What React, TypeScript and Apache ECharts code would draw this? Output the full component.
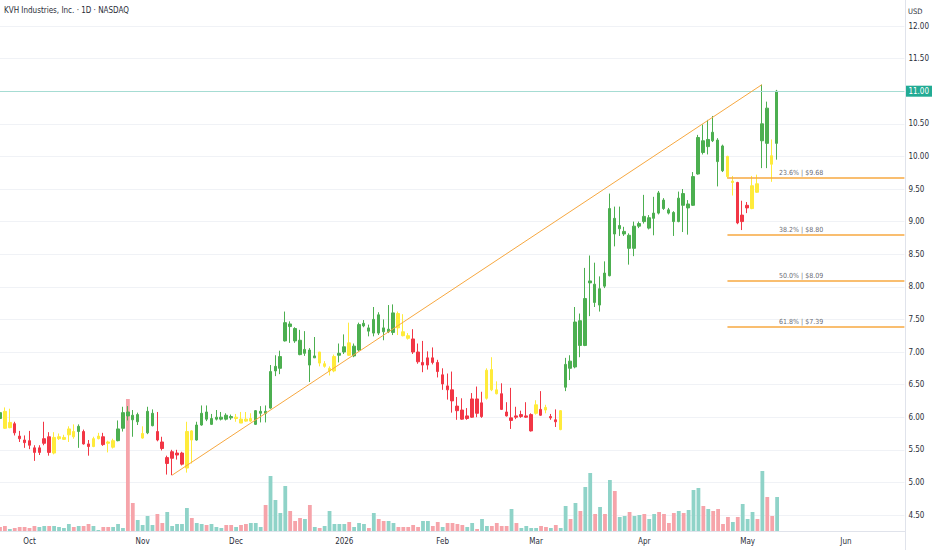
import React, { useEffect, useRef } from "react";
import * as echarts from "echarts";

const TITLE = "KVH Industries, Inc. · 1D · NASDAQ";
const CURRENCY = "USD";
const FONT = "'Liberation Sans Narrow', 'DejaVu Sans Condensed', 'Roboto Condensed', 'Liberation Sans', sans-serif";

// trading days (month -> day numbers), last part is future empty space
const tradingDays: [string, number[]][] = [
  ["2025-09", [23, 24, 25, 26, 29, 30]],
  ["2025-10", [1, 2, 3, 6, 7, 8, 9, 10, 13, 14, 15, 16, 17, 20, 21, 22, 23, 24, 27, 28, 29, 30, 31]],
  ["2025-11", [3, 4, 5, 6, 7, 10, 11, 12, 13, 14, 17, 18, 19, 20, 21, 24, 25, 26, 28]],
  ["2025-12", [1, 2, 3, 4, 5, 8, 9, 10, 11, 12, 15, 16, 17, 18, 19, 22, 23, 24, 26, 29, 30, 31]],
  ["2026-01", [2, 5, 6, 7, 8, 9, 12, 13, 14, 15, 16, 20, 21, 22, 23, 26, 27, 28, 29, 30]],
  ["2026-02", [2, 3, 4, 5, 6, 9, 10, 11, 12, 13, 17, 18, 19, 20, 23, 24, 25, 26, 27]],
  ["2026-03", [2, 3, 4, 5, 6, 9, 10, 11, 12, 13, 16, 17, 18, 19, 20, 23, 24, 25, 26, 27, 30, 31]],
  ["2026-04", [1, 2, 6, 7, 8, 9, 10, 13, 14, 15, 16, 17, 20, 21, 22, 23, 24, 27, 28, 29, 30]],
  ["2026-05", [1, 4, 5, 6, 7, 8, 11, 12, 13, 14, 15, 18, 19, 20, 21, 22, 26, 27, 28, 29]],
  ["2026-06", [1, 2, 3, 4, 5, 8, 9, 10, 11, 12, 15, 16, 17]],
];
const monthNames: Record<string, string> = {
  "2025-10": "Oct", "2025-11": "Nov", "2025-12": "Dec", "2026-01": "2026",
  "2026-02": "Feb", "2026-03": "Mar", "2026-04": "Apr", "2026-05": "May", "2026-06": "Jun",
};

const opens = [
  6.07, 6.09, 5.84, 5.90, 5.71, 5.65, 5.64, 5.53, 5.46, 5.60,
  5.70, 5.45, 5.67, 5.66, 5.73, 5.78, 5.78, 5.78, 5.59, 5.55,
  5.67, 5.70, 5.62, 5.54, 5.64, 5.83, 6.08, 6.03, 5.93, 5.68,
  5.76, 5.87, 5.78, 5.62, 5.29, 5.37, 5.42, 5.28, 5.22, 5.79,
  5.65, 5.88, 6.08, 5.89, 5.97, 5.97, 6.03, 6.01, 5.98, 5.97,
  5.97, 5.94, 5.89, 6.06, 6.09, 6.14, 6.71, 6.75, 7.17, 7.43,
  7.36, 7.18, 6.98, 7.03, 6.91, 7.00, 6.78, 6.71, 6.71, 6.95,
  7.00, 7.14, 6.94, 7.03, 7.40, 7.37, 7.29, 7.57, 7.37, 7.31,
  7.30, 7.59, 7.31, 7.25, 7.20, 7.00, 6.80, 6.80, 6.91, 6.84,
  6.51, 6.48, 6.42, 6.17, 6.11, 5.98, 6.00, 6.28, 6.01, 6.29,
  6.73, 6.42, 6.36, 6.08, 5.95, 6.02, 6.01, 6.00, 5.79, 6.06,
  6.12, 6.15, 5.99, 5.96, 5.81, 6.46, 6.86, 6.77, 7.48, 7.10,
  8.06, 8.04, 7.72, 8.21, 8.17, 9.05, 8.89, 8.81, 8.79, 8.59,
  8.93, 9.08, 8.90, 9.05, 9.44, 9.33, 9.18, 9.14, 9.00, 9.43,
  9.21, 9.25, 9.73, 10.24, 10.15, 10.37, 10.25, 10.16, 10.00, 9.60,
  9.60, 9.00, 9.21, 9.20, 9.58, 10.24, 10.74, 10.01, 10.20,
];
const closes = [
  5.98, 5.83, 5.92, 5.76, 5.67, 5.61, 5.57, 5.46, 5.53, 5.67,
  5.46, 5.69, 5.70, 5.69, 5.82, 5.70, 5.86, 5.59, 5.55, 5.67,
  5.71, 5.58, 5.60, 5.64, 5.82, 6.07, 6.02, 5.96, 6.04, 5.75,
  6.09, 6.06, 5.65, 5.52, 5.38, 5.47, 5.45, 5.45, 5.78, 5.65,
  5.88, 6.06, 5.97, 5.98, 6.00, 6.00, 5.97, 5.99, 6.00, 5.91,
  5.94, 5.98, 6.10, 6.09, 6.06, 6.70, 6.78, 6.93, 7.45, 7.39,
  7.17, 6.96, 7.04, 6.80, 6.94, 6.83, 6.82, 6.75, 6.93, 6.98,
  7.08, 6.95, 7.09, 7.42, 7.44, 7.32, 7.50, 7.29, 7.31, 7.35,
  7.60, 7.37, 7.25, 7.21, 7.00, 6.85, 6.84, 6.91, 6.84, 6.70,
  6.65, 6.42, 6.25, 6.10, 5.97, 6.02, 6.28, 6.06, 6.22, 6.72,
  6.42, 6.36, 6.12, 6.02, 5.99, 6.00, 6.04, 6.02, 6.04, 6.19,
  6.03, 6.11, 6.01, 5.93, 6.10, 6.81, 6.75, 7.46, 7.10, 7.82,
  8.09, 7.76, 7.97, 8.01, 9.20, 8.81, 8.94, 8.85, 8.59, 8.93,
  8.97, 9.00, 9.06, 9.13, 9.13, 9.20, 9.13, 9.00, 9.36, 9.25,
  9.27, 9.69, 10.29, 10.06, 10.26, 10.24, 9.92, 9.78, 9.69, 9.62,
  8.98, 9.10, 9.25, 9.55, 9.45, 10.50, 10.20, 9.88, 11.00,
];
const highs = [
  6.12, 6.15, 6.13, 5.93, 5.79, 5.72, 5.79, 5.57, 5.57, 5.93,
  5.77, 5.77, 5.75, 5.73, 5.86, 5.89, 5.89, 5.81, 5.65, 5.70,
  5.76, 5.76, 5.64, 5.67, 5.95, 6.16, 6.17, 6.11, 6.07, 5.86,
  6.16, 6.12, 6.08, 5.70, 5.41, 5.50, 5.50, 5.47, 5.93, 5.80,
  5.93, 6.18, 6.18, 6.05, 6.11, 6.08, 6.06, 6.04, 6.05, 6.08,
  6.08, 6.06, 6.11, 6.17, 6.18, 6.80, 6.95, 7.02, 7.62, 7.47,
  7.38, 7.34, 7.32, 7.06, 7.23, 7.00, 6.86, 6.78, 6.96, 7.13,
  7.27, 7.45, 7.13, 7.45, 7.49, 7.42, 7.69, 7.61, 7.50, 7.72,
  7.73, 7.62, 7.58, 7.29, 7.35, 7.13, 7.17, 7.01, 7.07, 6.88,
  6.75, 6.67, 6.70, 6.31, 6.29, 6.14, 6.37, 6.47, 6.39, 6.75,
  6.92, 6.55, 6.52, 6.23, 6.45, 6.16, 6.10, 6.23, 6.06, 6.26,
  6.40, 6.19, 6.05, 6.12, 6.11, 6.91, 6.95, 7.69, 7.59, 8.29,
  8.48, 8.37, 8.16, 8.39, 9.43, 9.23, 9.23, 8.92, 8.82, 9.00,
  9.00, 9.41, 9.10, 9.38, 9.47, 9.36, 9.21, 9.16, 9.46, 9.50,
  9.33, 9.76, 10.33, 10.49, 10.56, 10.62, 10.28, 10.18, 10.01, 9.70,
  9.61, 9.32, 9.30, 9.70, 9.72, 11.10, 10.84, 10.26, 11.02,
];
const lows = [
  5.95, 5.82, 5.83, 5.72, 5.62, 5.53, 5.51, 5.33, 5.42, 5.57,
  5.41, 5.43, 5.65, 5.65, 5.62, 5.67, 5.53, 5.58, 5.41, 5.54,
  5.66, 5.56, 5.46, 5.52, 5.63, 5.78, 5.95, 5.70, 5.88, 5.67,
  5.74, 5.86, 5.63, 5.49, 5.12, 5.11, 5.35, 5.26, 5.15, 5.29,
  5.64, 5.87, 5.94, 5.88, 5.95, 5.95, 5.95, 5.96, 5.93, 5.91,
  5.93, 5.93, 5.88, 5.92, 5.92, 6.13, 6.63, 6.66, 7.16, 7.14,
  7.14, 6.95, 6.94, 6.54, 6.91, 6.78, 6.76, 6.64, 6.69, 6.84,
  6.97, 6.94, 6.92, 7.01, 7.38, 7.24, 7.24, 7.26, 7.18, 7.29,
  7.26, 7.26, 7.24, 7.19, 6.97, 6.82, 6.69, 6.73, 6.81, 6.61,
  6.42, 6.27, 6.07, 5.96, 5.96, 5.96, 5.99, 6.00, 5.99, 6.27,
  6.40, 6.35, 6.11, 6.01, 5.82, 5.97, 5.99, 5.99, 5.78, 6.04,
  6.02, 6.06, 5.96, 5.85, 5.80, 6.40, 6.57, 6.75, 6.92, 7.09,
  7.55, 7.69, 7.62, 7.98, 8.16, 8.62, 8.78, 8.78, 8.34, 8.47,
  8.90, 8.97, 8.88, 8.79, 9.11, 9.18, 9.11, 8.78, 8.99, 8.84,
  8.80, 9.24, 9.72, 10.03, 10.03, 10.22, 9.54, 9.76, 9.66, 9.40,
  8.96, 8.87, 9.13, 9.19, 9.44, 9.82, 9.82, 9.61, 9.95,
];
// indicator state colouring of each candle: g = up trend, r = down trend, y = neutral
const candleState = [
  "gyyrrrrrrr", "ryyyyygrry", "yryygggggy", "ggrrrrrryy", "ggggggggyy",
  "yygggggggg", "gggggyyyyg", "gygggggggg", "gyyyrrrrrr", "rrrrrrrrry",
  "yyrrrrrrry", "ryrryggggg", "gggggggggg", "gggggggggg", "ggggggggyy", "rrryyggyg",
].join("").split("");
// volume, thousands of shares
const volume = [
  40, 50, 20, 30, 40, 40, 30, 50, 40, 50,
  50, 50, 40, 30, 70, 40, 50, 50, 70, 50,
  10, 40, 40, 40, 70, 30, 1320, 280, 110, 60,
  150, 60, 170, 80, 190, 50, 70, 70, 230, 130,
  80, 70, 60, 70, 40, 30, 60, 60, 40, 60,
  70, 80, 80, 40, 260, 550, 310, 180, 450, 200,
  100, 130, 120, 260, 40, 30, 50, 200, 70, 70,
  70, 90, 40, 80, 70, 30, 180, 120, 100, 100,
  80, 40, 40, 40, 60, 40, 100, 100, 50, 90,
  40, 80, 80, 70, 60, 40, 80, 20, 120, 50,
  50, 80, 50, 50, 220, 80, 30, 50, 30, 30,
  50, 40, 30, 60, 30, 250, 120, 280, 200, 440,
  580, 170, 240, 170, 510, 400, 140, 150, 190, 150,
  160, 170, 120, 170, 190, 170, 80, 180, 200, 180,
  210, 410, 430, 250, 220, 200, 220, 70, 140, 90,
  140, 270, 120, 190, 120, 600, 340, 150, 340,
];
const trendLine: [number, number][] = [[35, 5.11], [155, 11.10]];
const fibStartIndex = 148;
const fibLabelIndex = 163;
const fibRatios = ["23.6%", "38.2%", "50.0%", "61.8%"];
const fibPrices = [9.68, 8.80, 8.09, 7.39];

const CANDLE_COLORS: Record<string, string> = { g: "#4caf50", r: "#f23645", y: "#ffeb3b" };
const VOL_UP = "#8fd3c8";
const VOL_DOWN = "#f6a4aa";
const FIB_COLOR = "#f7a840";
const TEXT = "#2a2e39";

export default function App() {
  const ref = useRef<HTMLDivElement>(null);
  useEffect(() => {
    const categories: string[] = [];
    const labels = new Map<number, string>();
    tradingDays.forEach(([m, days]) => {
      days.forEach((d, k) => {
        if (k === 0 && monthNames[m]) labels.set(categories.length, monthNames[m]);
        categories.push(`${m}-${String(d).padStart(2, "0")}`);
      });
    });
    const last = categories.length - 1;
    const lastClose = closes[closes.length - 1];

    const candleData = opens.map((o, i) => {
      const c = CANDLE_COLORS[candleState[i]] || CANDLE_COLORS.g;
      return {
        value: [o, closes[i], lows[i], highs[i]],
        itemStyle: { color: c, color0: c, borderColor: c, borderColor0: c, borderColorDoji: c, borderWidth: 1 },
      };
    });
    const volData = volume.map((v, i) => ({
      value: v,
      itemStyle: { color: closes[i] >= opens[i] ? VOL_UP : VOL_DOWN },
    }));

    const markLines: any[] = [
      [
        {
          coord: [0, lastClose],
          lineStyle: { color: "#a6dcd3", width: 1, type: "solid" },
          label: {
            show: true, position: "end", formatter: lastClose.toFixed(2), distance: 1,
            color: "#ffffff", backgroundColor: "#22ab94", padding: [2, 3, 1, 3],
            fontSize: 8, fontFamily: FONT,
          },
        },
        { coord: [last, lastClose] },
      ],
      [
        { coord: trendLine[0], lineStyle: { color: FIB_COLOR, width: 1, type: "solid" }, label: { show: false } },
        { coord: trendLine[1] },
      ],
      ...fibPrices.map((p) => [
        { coord: [fibStartIndex, p], lineStyle: { color: FIB_COLOR, width: 1.5, type: "solid" }, label: { show: false } },
        { coord: [last, p] },
      ]),
    ];

    const chart = echarts.init(ref.current!, undefined, { renderer: "svg" });
    chart.setOption({
      animation: false,
      backgroundColor: "#ffffff",
      textStyle: { fontFamily: FONT },
      grid: [
        { left: 0, right: 27, top: 26, bottom: 35 },
        { left: 0, right: 27, top: 0, bottom: 19 },
      ],
      xAxis: [
        { type: "category", gridIndex: 0, data: categories, boundaryGap: false, show: false },
        {
          type: "category", gridIndex: 1, data: categories, boundaryGap: false,
          axisLine: { show: true, lineStyle: { color: "#e0e3eb" } },
          axisTick: { show: false },
          splitLine: { show: false },
          axisLabel: {
            interval: (i: number) => labels.has(i),
            formatter: (_v: string, i: number) => labels.get(i) || "",
            fontSize: 8, color: TEXT, margin: 6, fontFamily: FONT,
          },
        },
      ],
      yAxis: [
        {
          type: "value", gridIndex: 0, position: "right", min: 4.5, max: 12, interval: 0.5,
          axisLine: { show: false }, axisTick: { show: false },
          axisLabel: { formatter: (v: number) => v.toFixed(2), fontSize: 8, color: TEXT, margin: 4, fontFamily: FONT },
          splitLine: { show: true, lineStyle: { color: "#f0f2f6", width: 1 } },
        },
        { type: "value", gridIndex: 1, position: "right", min: 0, max: 5310, show: false },
      ],
      graphic: [
        { type: "line", shape: { x1: 905.5, y1: 0, x2: 905.5, y2: 550 }, style: { stroke: "#e0e3eb", lineWidth: 1 }, z: 10 },
        { type: "text", left: 4, top: 6, style: { text: TITLE, fontSize: 8, fill: TEXT, fontFamily: FONT } },
        { type: "text", left: 908, top: 7, style: { text: CURRENCY, fontSize: 7.5, fill: TEXT, fontFamily: FONT } },
      ],
      series: [
        {
          type: "bar", name: "Volume", xAxisIndex: 1, yAxisIndex: 1, data: volData,
          barWidth: 3.8, z: 1, silent: true,
        },
        {
          type: "candlestick", name: "KVH", xAxisIndex: 0, yAxisIndex: 0, data: candleData,
          barWidth: 3, z: 3,
          markLine: { symbol: ["none", "none"], silent: true, animation: false, data: markLines },
        },
        {
          type: "scatter", xAxisIndex: 0, yAxisIndex: 0, symbolSize: 0, z: 4, silent: true,
          data: fibPrices.map((p, k) => ({
            value: [fibLabelIndex, p],
            label: {
              show: true, position: "top", distance: 1, fontSize: 7, color: "#3d414c", fontFamily: FONT,
              formatter: `${fibRatios[k]} | $${p.toFixed(2)}`,
            },
          })),
        },
      ],
    });
    return () => chart.dispose();
  }, []);
  return <div ref={ref} style={{ position: "fixed", left: 0, top: 0, width: 932, height: 550 }} />;
}
